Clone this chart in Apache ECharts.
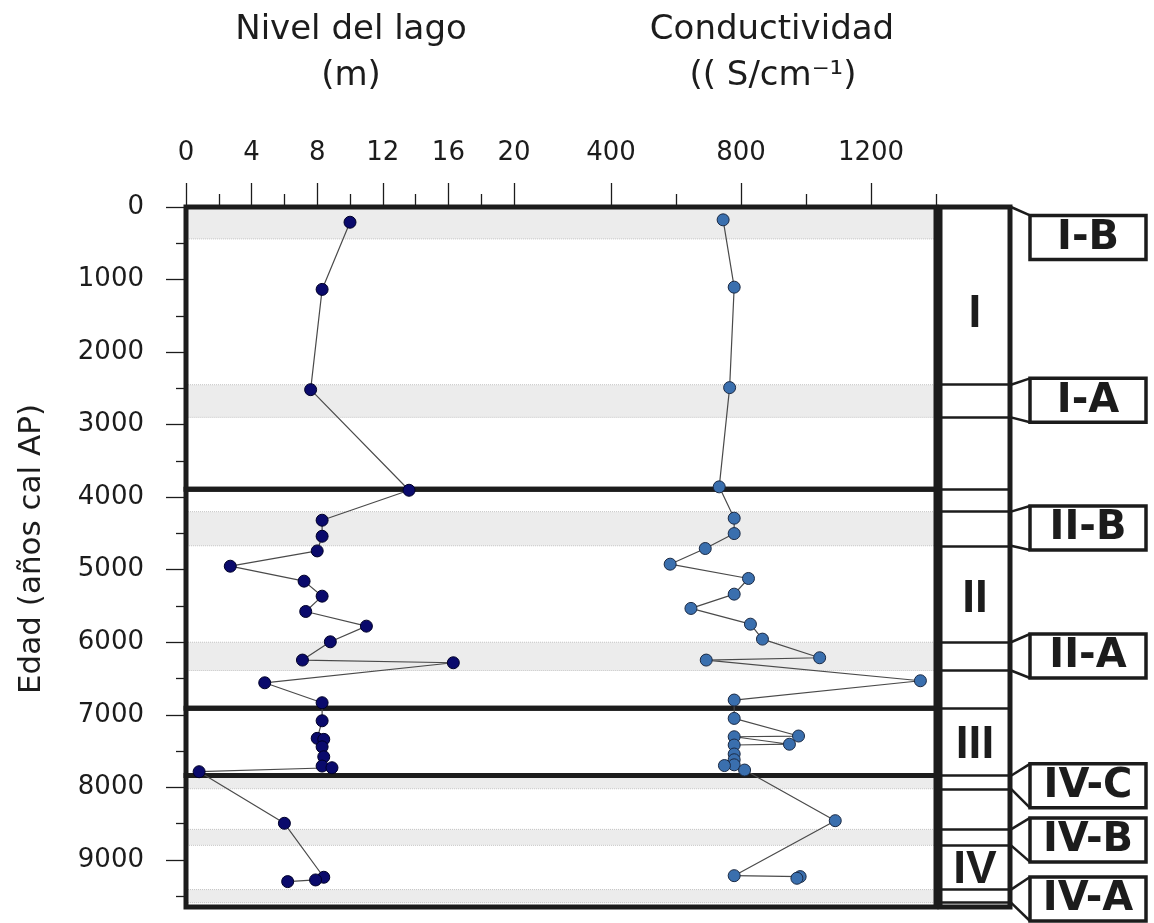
<!DOCTYPE html>
<html>
<head>
<meta charset="utf-8">
<script src="https://cdn.jsdelivr.net/npm/echarts@6/dist/echarts.min.js"></script>
<style>
html,body{margin:0;padding:0;background:#fff;}
#chart{width:1154px;height:923px;}
</style>
</head>
<body>
<div id="chart"></div>
<script>
// ---- data ----
var lakeAge   = [210, 1136, 2518, 3905, 4318, 4539, 4741, 4952, 5158, 5365, 5576, 5778, 5994, 6246, 6283, 6559, 6834, 7083, 7325, 7339, 7442, 7579, 7707, 7730, 7785, 8496, 9240, 9277, 9300];
var lakeLevel = [10.0, 8.3, 7.6, 13.6, 8.3, 8.3, 8.0, 2.7, 7.2, 8.3, 7.3, 11.0, 8.8, 7.1, 16.3, 4.8, 8.3, 8.3, 8.0, 8.4, 8.3, 8.4, 8.3, 8.9, 0.8, 6.0, 8.4, 7.9, 6.2];

var condAge = [177, 1105, 2490, 3858, 4290, 4502, 4708, 4924, 5121, 5337, 5534, 5751, 5957, 6214, 6246, 6531, 6797, 7050, 7293, 7303, 7406, 7417, 7541, 7620, 7690, 7700, 7762, 8460, 9218, 9231, 9254];
var condVal = [745, 779, 765, 733, 779, 779, 690, 582, 823, 779, 646, 829, 866, 1042, 693, 1352, 779, 779, 977, 779, 949, 779, 779, 779, 779, 749, 811, 1090, 779, 982, 972];

var ageTicks      = [0, 1000, 2000, 3000, 4000, 5000, 6000, 7000, 8000, 9000];
var ageMinorTicks = [500, 1500, 2500, 3500, 4500, 5500, 6500, 7500, 8500, 9500];
var lakeTicks      = [0, 4, 8, 12, 16, 20];
var lakeMinorTicks = [2, 6, 10, 14, 18];
var condTicks      = [400, 800, 1200];
var condMinorTicks = [600, 1000, 1400];

var zoneBounds   = [0, 3890, 6910, 7838, 9650];
var zoneNames    = ['I', 'II', 'III', 'IV'];
var zoneLabelAge = [1480, 5410, 7420, 9140];

var subzoneNames  = ['I-B', 'I-A', 'II-B', 'II-A', 'IV-C', 'IV-B', 'IV-A'];
var bandTop       = [0, 2450, 4200, 6000, 7840, 8580, 9410];
var bandBottom    = [440, 2900, 4670, 6390, 8020, 8800, 9590];
var boxCenterAge  = [420, 2665, 4425, 6190, 7980, 8725, 9540];
var columnLines   = [2450, 2900, 3890, 4200, 4670, 6000, 6390, 6910, 7838, 8020, 8580, 8800, 9410, 9590];

var AGE_MAX = 9650;
// ---------------------------------------

var INK = '#1c1c1c';
var FONT = 'DejaVu Sans';

function plain(v) { return String(v); }

function yAx(grid, opts) {
  return Object.assign({
    type: 'value', gridIndex: grid, min: 0, max: AGE_MAX, inverse: true,
    position: 'left', offset: 0,
    axisLine: {show: false}, splitLine: {show: false},
    axisTick: {show: false}, axisLabel: {show: false}
  }, opts || {});
}
function xAx(grid, min, max, opts) {
  return Object.assign({
    type: 'value', gridIndex: grid, min: min, max: max, position: 'top', offset: 0,
    axisLine: {show: false}, splitLine: {show: false},
    axisTick: {show: false}, axisLabel: {show: false}
  }, opts || {});
}
function majorTick(vals, len) {
  return {show: true, customValues: vals, length: len, lineStyle: {color: INK, width: 1.3}};
}
function tickLabel(vals, margin) {
  return {show: true, customValues: vals, margin: margin, fontSize: 26, fontFamily: FONT, color: INK, formatter: plain};
}

var chart = echarts.init(document.getElementById('chart'), null, {renderer: 'canvas'});

var option = {
  animation: false,
  backgroundColor: '#ffffff',
  grid: [
    {left: 186, top: 207, width: 328, height: 700},   // lake level
    {left: 611, top: 207, width: 325, height: 700},   // conductivity
    {left: 186, top: 207, width: 750, height: 700},   // frame & bands
    {left: 940, top: 207, width: 70, height: 700}     // zone column
  ],
  xAxis: [
    xAx(0, 0, 20, {axisTick: majorTick(lakeTicks, 24), axisLabel: tickLabel(lakeTicks, 41)}),
    xAx(0, 0, 20, {axisTick: majorTick(lakeMinorTicks, 13)}),
    xAx(1, 400, 1400, {axisTick: majorTick(condTicks, 24), axisLabel: tickLabel(condTicks, 41)}),
    xAx(1, 400, 1400, {axisTick: majorTick(condMinorTicks, 13)}),
    xAx(2, 0, 1, {show: false}),
    xAx(3, 0, 1, {show: false})
  ],
  yAxis: [
    yAx(0, {axisTick: majorTick(ageTicks, 20), axisLabel: tickLabel(ageTicks, 42)}),
    yAx(0, {axisTick: majorTick(ageMinorTicks, 10)}),
    yAx(1, {show: false}),
    yAx(2, {show: false}),
    yAx(3, {show: false})
  ],
  graphic: [
    {type: 'text', x: 351, y: 30, style: {text: 'Nivel del lago', font: '34px "DejaVu Sans"', fill: INK, align: 'center', verticalAlign: 'middle'}},
    {type: 'text', x: 351, y: 76, style: {text: '(m)', font: '34px "DejaVu Sans"', fill: INK, align: 'center', verticalAlign: 'middle'}},
    {type: 'text', x: 772, y: 30, style: {text: 'Conductividad', font: '34px "DejaVu Sans"', fill: INK, align: 'center', verticalAlign: 'middle'}},
    {type: 'text', x: 773, y: 76, style: {text: '(( S/cm\u207B\u00B9)', font: '34px "DejaVu Sans"', fill: INK, align: 'center', verticalAlign: 'middle'}},
    {type: 'text', x: 32, y: 549, rotation: Math.PI / 2, style: {text: 'Edad (años cal AP)', font: '31px "DejaVu Sans"', fill: INK, align: 'center', verticalAlign: 'middle'}}
  ],
  series: [
    // gray sub-zone bands
    {
      type: 'line', xAxisIndex: 4, yAxisIndex: 3, data: [], silent: true,
      markArea: {
        silent: true, z: 1,
        itemStyle: {color: '#ececec', borderColor: '#c4c4c4', borderType: 'dotted', borderWidth: 1},
        label: {show: false},
        data: bandTop.map(function (t, i) { return [{yAxis: t}, {yAxis: bandBottom[i]}]; })
      }
    },
    // thick zone frames
    {
      type: 'line', xAxisIndex: 4, yAxisIndex: 3, data: [], silent: true,
      markArea: {
        silent: true, z: 3,
        itemStyle: {color: 'rgba(0,0,0,0)', borderColor: INK, borderWidth: 5},
        label: {show: false},
        data: zoneNames.map(function (n, i) { return [{yAxis: zoneBounds[i]}, {yAxis: zoneBounds[i + 1]}]; })
      }
    },
    // zone column outline + inner lines
    {
      type: 'line', xAxisIndex: 5, yAxisIndex: 4, data: [], silent: true,
      markArea: {
        silent: true, z: 3,
        itemStyle: {color: 'rgba(0,0,0,0)', borderColor: INK, borderWidth: 5},
        label: {show: false},
        data: [[{yAxis: zoneBounds[0]}, {yAxis: zoneBounds[zoneBounds.length - 1]}]]
      },
      markLine: {
        silent: true, z: 3, symbol: ['none', 'none'],
        lineStyle: {color: INK, width: 2.5, type: 'solid'},
        label: {show: false},
        data: columnLines.map(function (v) { return {yAxis: v}; })
      }
    },
    // zone names in column
    {
      type: 'scatter', xAxisIndex: 5, yAxisIndex: 4, silent: true, z: 4,
      symbolSize: 1, itemStyle: {color: 'rgba(0,0,0,0)', opacity: 1},
      label: {
        show: true, position: 'inside', opacity: 1,
        formatter: function (p) { return zoneNames[p.dataIndex]; },
        fontSize: 46, fontWeight: 'bold', fontFamily: 'Liberation Sans', color: INK
      },
      data: zoneLabelAge.map(function (a) { return [0.5, a]; })
    },
    // sub-zone label boxes with connectors
    {
      type: 'custom', xAxisIndex: 5, yAxisIndex: 4, silent: true, z: 4, clip: false,
      data: bandTop.map(function (t, i) { return [t, bandBottom[i], boxCenterAge[i]]; }),
      renderItem: function (params, api) {
        var i = params.dataIndex;
        var top = api.coord([1, api.value(0)]);
        var bot = api.coord([1, api.value(1)]);
        var cen = api.coord([1, api.value(2)]);
        var xr = top[0] + 1;
        var bw = 116, bh = 44, bx = xr + 19, by = cen[1] - bh / 2;
        var kids = [
          {type: 'line', shape: {x1: xr, y1: top[1], x2: bx, y2: by}, style: {stroke: INK, lineWidth: 2.5}}
        ];
        if (columnLines.indexOf(bandBottom[i]) >= 0) {
          kids.push({type: 'line', shape: {x1: xr, y1: bot[1], x2: bx, y2: by + bh}, style: {stroke: INK, lineWidth: 2.5}});
        }
        kids.push({type: 'rect', shape: {x: bx, y: by, width: bw, height: bh}, style: {fill: '#ffffff', stroke: INK, lineWidth: 3.5}});
        kids.push({type: 'text', style: {text: subzoneNames[i], x: bx + bw / 2, y: by + bh / 2 + 1, align: 'center', verticalAlign: 'middle', font: 'bold 40px "DejaVu Sans"', fill: INK}});
        return {type: 'group', children: kids};
      }
    },
    // lake level
    {
      type: 'line', xAxisIndex: 0, yAxisIndex: 0, z: 6,
      data: lakeAge.map(function (a, i) { return [lakeLevel[i], a]; }),
      symbol: 'circle', symbolSize: 12, showAllSymbol: true,
      itemStyle: {color: '#0a0a6c', borderColor: '#000028', borderWidth: 1},
      lineStyle: {color: '#4a4a4a', width: 1.2},
      clip: false
    },
    // conductivity
    {
      type: 'line', xAxisIndex: 2, yAxisIndex: 2, z: 6,
      data: condAge.map(function (a, i) { return [condVal[i], a]; }),
      symbol: 'circle', symbolSize: 12, showAllSymbol: true,
      itemStyle: {color: '#3a6fae', borderColor: '#1b2a44', borderWidth: 1},
      lineStyle: {color: '#4a4a4a', width: 1.2},
      clip: false
    }
  ]
};
chart.setOption(option);
</script>
</body>
</html>
